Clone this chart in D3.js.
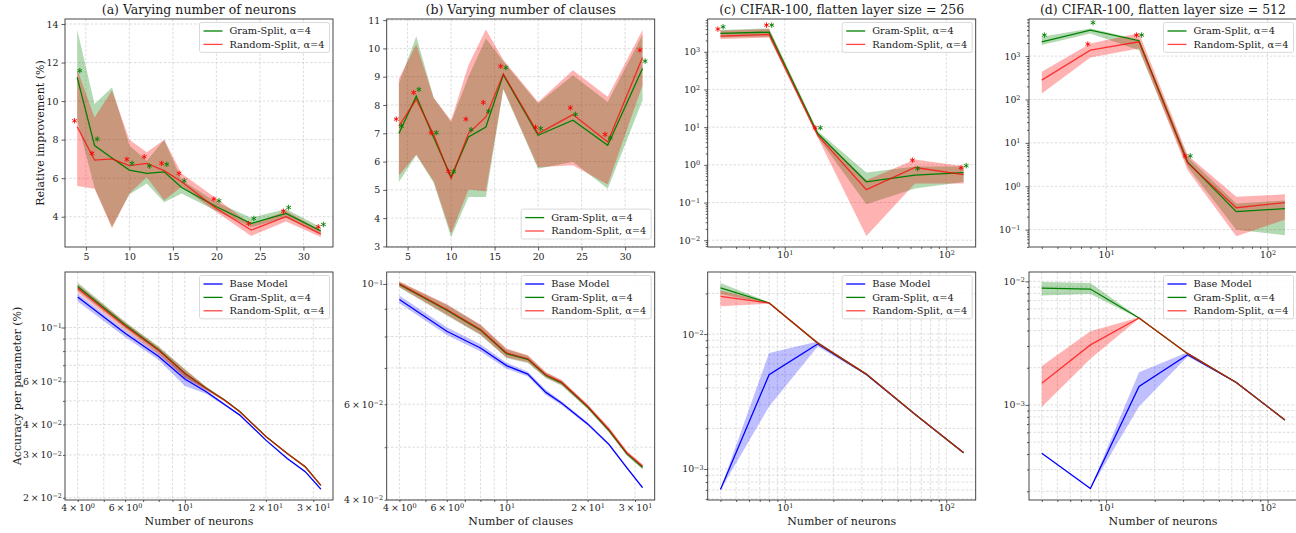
<!DOCTYPE html>
<html>
<head>
<meta charset="utf-8">
<script src="https://cdn.jsdelivr.net/npm/d3@7"></script>
<style>
  body { margin: 0; background: #fff; }
  svg text { font-family: "DejaVu Serif", serif; fill: #1a1a1a; }
</style>
</head>
<body>
<div id="chart"></div>
<script>
// x values
const neurons = [4, 6, 8, 10, 12, 14, 16, 20, 24, 28, 32];
const clauses = [4, 6, 8, 10, 12, 14, 16, 20, 24, 28, 32];
const cifarNeurons = [4, 8, 16, 32, 64, 128];

// (a) top: relative improvement, varying neurons
const aGram = [11.23, 7.69, 7.05, 6.42, 6.25, 6.33, 5.52, 4.52, 3.65, 4.17, 3.26];
const aGramLo = [9.0, 5.5, 3.5, 5.15, 5.73, 4.75, 5.2, 4.3, 3.45, 3.95, 3.1];
const aGramHi = [13.7, 9.85, 10.7, 7.7, 6.9, 8.0, 5.9, 4.75, 3.95, 4.4, 3.45];
const aRand = [8.67, 6.94, 7.0, 6.65, 6.77, 6.39, 5.82, 4.43, 3.31, 4.0, 3.1];
const aRandLo = [5.6, 5.45, 3.4, 5.2, 6.05, 4.85, 5.55, 4.25, 3.0, 3.75, 2.95];
const aRandHi = [11.65, 9.15, 10.55, 8.0, 7.35, 8.0, 6.25, 4.95, 3.6, 4.3, 3.3];
const aGramStar = [11.58, 8.03, null, 6.77, 6.63, 6.72, 5.87, 4.83, 3.91, 4.48, 3.6];
const aRandStar = [8.98, 7.29, null, 6.98, 7.11, 6.77, 6.25, 4.92, 3.65, 4.29, 3.48];

// (b) top: relative improvement, varying clauses
const bGram = [6.99, 8.31, 6.85, 5.45, 6.87, 7.22, 9.07, 6.93, 7.46, 6.58, 9.29];
const bGramLo = [5.28, 6.22, 5.25, 3.33, 4.75, 4.75, 8.55, 5.75, 5.99, 5.04, 8.17];
const bGramHi = [8.76, 10.43, 8.26, 7.4, 9.0, 10.35, 9.55, 8.05, 9.05, 8.11, 10.47];
const bRand = [7.25, 8.2, 6.95, 5.4, 7.0, 7.58, 9.1, 6.99, 7.66, 6.69, 9.68];
const bRandLo = [5.51, 6.25, 5.3, 3.45, 5.01, 4.95, 8.58, 5.8, 5.87, 5.19, 8.7];
const bRandHi = [8.93, 10.15, 8.25, 7.45, 9.41, 10.67, 9.6, 8.11, 9.23, 8.29, 10.65];
const bGramStar = [7.25, 8.55, 7.02, 5.65, 7.13, 7.78, 9.32, 7.17, 7.67, 6.83, 9.55];
const bRandStar = [7.5, 8.44, 7.02, 5.65, 7.5, 8.09, 9.37, 7.21, 7.9, 6.96, 9.94];

// (c) top: CIFAR-100, flatten 256
const cGram = [3070, 3330, 6.8, 0.354, 0.53, 0.625];
const cGramLo = [2400, 2500, 5.5, 0.09, 0.235, 0.35];
const cGramHi = [3760, 4170, 7.9, 0.625, 0.9, 0.9];
const cRand = [2600, 2890, 6.1, 0.22, 0.85, 0.55];
const cRandLo = [2170, 2400, 5.3, 0.013, 0.32, 0.32];
const cRandHi = [3600, 4000, 6.8, 0.39, 1.38, 0.92];
const cGramStar = [4600, 5100, 9.6, null, 0.8, 0.95];
const cRandStar = [4000, 5100, 9.6, null, 1.33, 0.84];

// (d) top: CIFAR-100, flatten 512
const dGram = [2140, 3980, 2260, 3.6, 0.26, 0.305];
const dGramLo = [1800, 3330, 1370, 2.8, 0.1, 0.074];
const dGramHi = [2800, 4350, 2400, 4.7, 0.4, 0.47];
const dRand = [280, 1370, 2140, 3.46, 0.32, 0.42];
const dRandLo = [137, 930, 1500, 2.35, 0.07, 0.17];
const dRandHi = [435, 1960, 3340, 5.2, 0.57, 0.65];
const dGramStar = [3050, 5900, 3050, 5.0, null, null];
const dRandStar = [null, 1890, 3050, 5.0, null, null];

// bottom (a): accuracy per parameter, neurons
const abBase = [0.1333, 0.0948, 0.076, 0.0615, 0.0545, 0.0484, 0.0437, 0.0345, 0.029, 0.0256, 0.0217];
const abBaseLo = [0.128, 0.0915, 0.0735, 0.0575, 0.0535, 0.0479, 0.0434, 0.0343, 0.0288, 0.0254, 0.0215];
const abBaseHi = [0.138, 0.0975, 0.0785, 0.0645, 0.0555, 0.0489, 0.044, 0.0347, 0.0292, 0.0258, 0.0219];
const abGram = [0.1475, 0.1026, 0.081, 0.0649, 0.0563, 0.0505, 0.0452, 0.0357, 0.0304, 0.0268, 0.0225];
const abGramLo = [0.142, 0.0995, 0.0785, 0.0625, 0.0555, 0.05, 0.0449, 0.0355, 0.0302, 0.0266, 0.0224];
const abGramHi = [0.153, 0.1055, 0.0835, 0.0675, 0.0571, 0.051, 0.0455, 0.0359, 0.0306, 0.027, 0.0226];
const abRand = [0.145, 0.1015, 0.0805, 0.0647, 0.0562, 0.0504, 0.0451, 0.0357, 0.0304, 0.0268, 0.0225];
const abRandLo = [0.139, 0.0975, 0.0775, 0.062, 0.0553, 0.0499, 0.0448, 0.0355, 0.0302, 0.0266, 0.0224];
const abRandHi = [0.1505, 0.105, 0.083, 0.0672, 0.0571, 0.0509, 0.0454, 0.0359, 0.0306, 0.027, 0.0226];

// bottom (b): accuracy per parameter, clauses
const bbBase = [0.0936, 0.0818, 0.0762, 0.0707, 0.0682, 0.0631, 0.0603, 0.0552, 0.0506, 0.0458, 0.0421];
const bbBaseLo = [0.0921, 0.0805, 0.0751, 0.0698, 0.0675, 0.0624, 0.0598, 0.0548, 0.0503, 0.0456, 0.0419];
const bbBaseHi = [0.0952, 0.0832, 0.0774, 0.0716, 0.0689, 0.0638, 0.0608, 0.0556, 0.0509, 0.046, 0.0423];
const bbGram = [0.0998, 0.0895, 0.0822, 0.0744, 0.0726, 0.0678, 0.0657, 0.0593, 0.0537, 0.0486, 0.0459];
const bbGramLo = [0.0985, 0.0875, 0.0805, 0.073, 0.0715, 0.067, 0.065, 0.0588, 0.0532, 0.0482, 0.0455];
const bbGramHi = [0.1008, 0.0915, 0.084, 0.0758, 0.0737, 0.0686, 0.0664, 0.0598, 0.0542, 0.049, 0.0463];
const bbRand = [0.1, 0.0897, 0.0824, 0.0746, 0.0728, 0.068, 0.0659, 0.0595, 0.0539, 0.0488, 0.0461];
const bbRandLo = [0.0987, 0.0877, 0.0807, 0.0732, 0.0717, 0.0672, 0.0652, 0.059, 0.0534, 0.0484, 0.0457];
const bbRandHi = [0.101, 0.0917, 0.0842, 0.076, 0.0739, 0.0688, 0.0666, 0.06, 0.0544, 0.0492, 0.0465];

// bottom (c)
const cbBase = [0.000706, 0.005, 0.00843, 0.00502, 0.00255, 0.00132];
const cbBaseLo = [0.0007, 0.0029, 0.0081, 0.00498, 0.00254, 0.00131];
const cbBaseHi = [0.000712, 0.00723, 0.0088, 0.00506, 0.00256, 0.00133];
const cbGram = [0.022, 0.017, 0.00857, 0.00505, 0.00255, 0.00132];
const cbGramLo = [0.0198, 0.0168, 0.0085, 0.00503, 0.00254, 0.00131];
const cbGramHi = [0.0239, 0.0172, 0.00865, 0.00507, 0.00256, 0.00133];
const cbRand = [0.019, 0.017, 0.00857, 0.00505, 0.00255, 0.00132];
const cbRandLo = [0.0161, 0.0168, 0.0085, 0.00503, 0.00254, 0.00131];
const cbRandHi = [0.021, 0.0172, 0.00865, 0.00507, 0.00256, 0.00133];

// bottom (d)
const dbBase = [0.000406, 0.000211, 0.00141, 0.00255, 0.00152, 0.000755];
const dbBaseLo = [0.000404, 0.00021, 0.00097, 0.00247, 0.00151, 0.00075];
const dbBaseHi = [0.000408, 0.000212, 0.00184, 0.00267, 0.00153, 0.00076];
const dbGram = [0.00883, 0.00867, 0.00505, 0.0026, 0.00152, 0.000755];
const dbGramLo = [0.0077, 0.0079, 0.005, 0.00257, 0.00151, 0.00075];
const dbGramHi = [0.00988, 0.0097, 0.0051, 0.00263, 0.00153, 0.00076];
const dbRand = [0.0015, 0.00306, 0.00505, 0.0026, 0.00152, 0.000755];
const dbRandLo = [0.00096, 0.00236, 0.005, 0.00257, 0.00151, 0.00075];
const dbRandHi = [0.00207, 0.00394, 0.0051, 0.00263, 0.00153, 0.00076];

// tick labels
const linXTicks = [5, 10, 15, 20, 25, 30];
const aYTicks = [4, 6, 8, 10, 12, 14];
const bYTicks = [3, 4, 5, 6, 7, 8, 9, 10, 11];
const cYTicks = [1e-2, 1e-1, 1, 10, 100, 1000];
const dYTicks = [1e-1, 1, 10, 100, 1000];
const cifarXTicks = [10, 100];
const smallLogXTicks = [4, 6, 10, 20, 30];
const abYTicks = [0.02, 0.03, 0.04, 0.06, 0.1];
const bbYTicks = [0.04, 0.06, 0.1];
const cbYTicks = [1e-3, 1e-2];
const dbYTicks = [1e-3, 1e-2];

const titles = [
  "(a) Varying number of neurons",
  "(b) Varying number of clauses",
  "(c) CIFAR-100, flatten layer size = 256",
  "(d) CIFAR-100, flatten layer size = 512",
];

const colors = { base: "#0000ff", gram: "#008000", rand: "#ff0000" };

function draw() {
  const dimensions = {
    width: 1296,
    height: 533,
    panelLefts: [65, 386.7, 707.7, 1029],
    panelWidth: 268,
    topRow: 19,
    bottomRow: 272,
    panelHeight: 228,
  };

  const svg = d3
    .select("#chart")
    .append("svg")
    .attr("width", dimensions.width)
    .attr("height", dimensions.height);

  const gramS = (x, y, lo, hi, star) => ({ x, y, lo, hi, star, color: colors.gram, label: "Gram-Split, α=4", lineOpacity: 1 });
  const randS = (x, y, lo, hi, star) => ({ x, y, lo, hi, star, color: colors.rand, label: "Random-Split, α=4", lineOpacity: 0.72 });
  const baseS = (x, y, lo, hi) => ({ x, y, lo, hi, color: colors.base, label: "Base Model", lineOpacity: 1 });

  const L = dimensions.panelLefts;
  const panels = [
    {
      left: L[0], top: dimensions.topRow, title: titles[0], ylabel: "Relative improvement (%)", ylabelX: 44,
      xLog: false, xDomain: [2.6, 33.4], xTicks: linXTicks,
      yLog: false, yDomain: [2.43, 14.26], yTicks: aYTicks,
      series: [gramS(neurons, aGram, aGramLo, aGramHi, aGramStar), randS(neurons, aRand, aRandLo, aRandHi, aRandStar)],
      legend: { corner: "top" },
    },
    {
      left: L[1], top: dimensions.topRow, title: titles[1],
      xLog: false, xDomain: [2.6, 33.4], xTicks: linXTicks,
      yLog: false, yDomain: [2.98, 11.04], yTicks: bYTicks,
      series: [gramS(clauses, bGram, bGramLo, bGramHi, bGramStar), randS(clauses, bRand, bRandLo, bRandHi, bRandStar)],
      legend: { corner: "bottom" },
    },
    {
      left: L[2], top: dimensions.topRow, title: titles[2],
      xLog: true, xDomain: [3.334, 152.1], xTicks: cifarXTicks,
      yLog: true, yDomain: [0.0066, 7413], yTicks: cYTicks, minorGrid: false, yPad: 7.5,
      series: [gramS(cifarNeurons, cGram, cGramLo, cGramHi, cGramStar), randS(cifarNeurons, cRand, cRandLo, cRandHi, cRandStar)],
      legend: { corner: "top" },
    },
    {
      left: L[3], top: dimensions.topRow, title: titles[3],
      xLog: true, xDomain: [3.334, 152.1], xTicks: cifarXTicks,
      yLog: true, yDomain: [0.0398, 7161], yTicks: dYTicks, minorGrid: false, yPad: 8.5,
      series: [gramS(cifarNeurons, dGram, dGramLo, dGramHi, dGramStar), randS(cifarNeurons, dRand, dRandLo, dRandHi, dRandStar)],
      legend: { corner: "top" },
    },
    {
      left: L[0], top: dimensions.bottomRow, ylabel: "Accuracy per parameter (%)", ylabelX: 20.5, xlabel: "Number of neurons",
      xLog: true, xDomain: [3.589, 35.5], xTicks: smallLogXTicks,
      yLog: true, yDomain: [0.01959, 0.169], yTicks: abYTicks, minorGrid: true, yPad: 3,
      series: [baseS(neurons, abBase, abBaseLo, abBaseHi), gramS(neurons, abGram, abGramLo, abGramHi), randS(neurons, abRand, abRandLo, abRandHi)],
      legend: { corner: "top" },
    },
    {
      left: L[1], top: dimensions.bottomRow, xlabel: "Number of clauses",
      xLog: true, xDomain: [3.589, 35.5], xTicks: smallLogXTicks,
      yLog: true, yDomain: [0.03996, 0.1052], yTicks: bbYTicks, minorGrid: true, yPad: 3.5,
      series: [baseS(clauses, bbBase, bbBaseLo, bbBaseHi), gramS(clauses, bbGram, bbGramLo, bbGramHi), randS(clauses, bbRand, bbRandLo, bbRandHi)],
      legend: { corner: "top" },
    },
    {
      left: L[2], top: dimensions.bottomRow, xlabel: "Number of neurons",
      xLog: true, xDomain: [3.334, 152.1], xTicks: cifarXTicks,
      yLog: true, yDomain: [0.000589, 0.02884], yTicks: cbYTicks, minorGrid: true, yPad: 4,
      series: [baseS(cifarNeurons, cbBase, cbBaseLo, cbBaseHi), gramS(cifarNeurons, cbGram, cbGramLo, cbGramHi), randS(cifarNeurons, cbRand, cbRandLo, cbRandHi)],
      legend: { corner: "top" },
    },
    {
      left: L[3], top: dimensions.bottomRow, xlabel: "Number of neurons",
      xLog: true, xDomain: [3.334, 152.1], xTicks: cifarXTicks,
      yLog: true, yDomain: [0.00017, 0.01191], yTicks: dbYTicks, minorGrid: true, yPad: 4,
      series: [baseS(cifarNeurons, dbBase, dbBaseLo, dbBaseHi), gramS(cifarNeurons, dbGram, dbGramLo, dbGramHi), randS(cifarNeurons, dbRand, dbRandLo, dbRandHi)],
      legend: { corner: "top" },
    },
  ];

  panels.forEach((p) => drawPanel(svg, p, dimensions.panelWidth, dimensions.panelHeight));
}

// all k * 10^e values inside a log domain
function logTicks(domain) {
  const out = [];
  const e0 = Math.floor(Math.log10(domain[0]));
  const e1 = Math.ceil(Math.log10(domain[1]));
  for (let e = e0; e <= e1; e++) {
    for (let k = 1; k <= 9; k++) {
      const v = k * Math.pow(10, e);
      if (v >= domain[0] && v <= domain[1]) out.push({ v, major: k === 1 });
    }
  }
  return out;
}

// "4 × 10^0" style label with a raised exponent
function logLabel(textSel, v) {
  const e = Math.floor(Math.log10(v) + 1e-9);
  const m = Math.round(v / Math.pow(10, e));
  textSel.text(null);
  textSel.append("tspan").text((m === 1 ? "" : m + "\u2009×\u2009") + "10");
  textSel
    .append("tspan")
    .attr("dy", "-0.45em")
    .attr("font-size", "6.5px")
    .text(String(e).replace("-", "−"));
}

function drawPanel(svg, p, w, h) {
  const ctr = svg.append("g").attr("transform", `translate(${p.left}, ${p.top})`);

  const xScale = (p.xLog ? d3.scaleLog() : d3.scaleLinear()).domain(p.xDomain).range([0, w]);
  const yScale = (p.yLog ? d3.scaleLog() : d3.scaleLinear()).domain(p.yDomain).range([h, 0]);

  const xAll = p.xLog ? logTicks(p.xDomain) : p.xTicks.map((v) => ({ v, major: true }));
  const yAll = p.yLog ? logTicks(p.yDomain) : p.yTicks.map((v) => ({ v, major: true }));

  // grid
  const gridX = xAll.filter((t) => t.major || p.minorGrid).map((t) => t.v);
  const gridY = yAll.filter((t) => t.major || p.minorGrid).map((t) => t.v);
  const grid = ctr.append("g").attr("stroke", "#c4c4c4").attr("stroke-width", 0.6).attr("stroke-dasharray", "2.5,1.8");
  grid.selectAll(".gx").data(gridX).join("line").attr("class", "gx")
    .attr("x1", (d) => xScale(d)).attr("x2", (d) => xScale(d)).attr("y1", 0).attr("y2", h);
  grid.selectAll(".gy").data(gridY).join("line").attr("class", "gy")
    .attr("y1", (d) => yScale(d)).attr("y2", (d) => yScale(d)).attr("x1", 0).attr("x2", w);

  // bands
  p.series.forEach((s) => {
    const idx = d3.range(s.x.length);
    ctr.append("path")
      .datum(idx)
      .attr("d", d3.area().x((i) => xScale(s.x[i])).y0((i) => yScale(s.lo[i])).y1((i) => yScale(s.hi[i])))
      .attr("fill", s.color)
      .attr("fill-opacity", s.color === colors.base ? 0.25 : 0.3);
  });

  // lines
  p.series.forEach((s) => {
    const idx = d3.range(s.x.length);
    ctr.append("path")
      .datum(idx)
      .attr("d", d3.line().x((i) => xScale(s.x[i])).y((i) => yScale(s.y[i])))
      .attr("fill", "none")
      .attr("stroke", s.color)
      .attr("stroke-opacity", s.lineOpacity)
      .attr("stroke-width", 1.3);
  });

  // significance stars
  const starType = d3.symbolAsterisk || d3.symbolCross;
  const starPath = d3.symbol().type(starType).size(20)();
  p.series.forEach((s) => {
    if (!s.star) return;
    const shift = s.color === colors.rand ? -2.6 : 2.6;
    const pts = d3.range(s.x.length).filter((i) => s.star[i] != null);
    ctr.append("g").selectAll("path").data(pts).join("path")
      .attr("d", starPath)
      .attr("transform", (i) => `translate(${xScale(s.x[i]) + shift}, ${yScale(s.star[i])})`)
      .attr("fill", "none")
      .attr("stroke", s.color)
      .attr("stroke-width", 0.9);
  });

  // frame
  ctr.append("rect").attr("width", w).attr("height", h)
    .attr("fill", "none").attr("stroke", "#333").attr("stroke-width", 0.9);

  // axes: minor ticks, major ticks, labels
  const styleAxis = (g) => {
    g.select(".domain").remove();
    g.selectAll(".tick line").attr("stroke", "#333").attr("stroke-width", 0.8);
    g.selectAll(".tick text").attr("font-size", "9.4px").attr("fill", "#1a1a1a")
      .attr("font-family", "DejaVu Serif, serif");
  };

  const xg = ctr.append("g").attr("transform", `translate(0, ${h})`);
  const yg = ctr.append("g");

  if (p.xLog) {
    xg.append("g").call(d3.axisBottom(xScale).tickValues(xAll.filter((t) => !t.major).map((t) => t.v)).tickSize(2).tickFormat("")).call(styleAxis);
    xg.append("g").call(d3.axisBottom(xScale).tickValues(xAll.filter((t) => t.major).map((t) => t.v)).tickSize(3.5).tickFormat("")).call(styleAxis);
    xg.append("g").call(d3.axisBottom(xScale).tickValues(p.xTicks).tickSize(0).tickPadding(4)).call(styleAxis)
      .selectAll(".tick text").each(function (d) { logLabel(d3.select(this), d); });
  } else {
    xg.append("g").call(d3.axisBottom(xScale).tickValues(p.xTicks).tickSize(3.5).tickPadding(3)).call(styleAxis);
  }

  if (p.yLog) {
    yg.append("g").call(d3.axisLeft(yScale).tickValues(yAll.filter((t) => !t.major).map((t) => t.v)).tickSize(2).tickFormat("")).call(styleAxis);
    yg.append("g").call(d3.axisLeft(yScale).tickValues(yAll.filter((t) => t.major).map((t) => t.v)).tickSize(3.5).tickFormat("")).call(styleAxis);
    yg.append("g").call(d3.axisLeft(yScale).tickValues(p.yTicks).tickSize(0).tickPadding(p.yPad)).call(styleAxis)
      .selectAll(".tick text").each(function (d) { logLabel(d3.select(this), d); });
  } else {
    yg.append("g").call(d3.axisLeft(yScale).tickValues(p.yTicks).tickSize(3.5).tickPadding(3)).call(styleAxis);
  }

  // title and labels
  if (p.title) {
    svg.append("text").attr("x", p.left + w / 2).attr("y", p.top - 5)
      .attr("text-anchor", "middle").attr("font-size", "12.5px").text(p.title);
  }
  if (p.xlabel) {
    svg.append("text").attr("x", p.left + w / 2).attr("y", p.top + h + 25)
      .attr("text-anchor", "middle").attr("font-size", "11px").text(p.xlabel);
  }
  if (p.ylabel) {
    svg.append("text")
      .attr("transform", `translate(${p.ylabelX}, ${p.top + h / 2}) rotate(-90)`)
      .attr("text-anchor", "middle").attr("font-size", "11px").text(p.ylabel);
  }

  // legend
  const rowH = 13.4;
  const boxH = 8.5 + rowH * (p.series.length - 1) + 8;
  const leg = svg.append("g");
  const box = leg.append("rect")
    .attr("rx", 2).attr("fill", "#fff").attr("fill-opacity", 0.85)
    .attr("stroke", "#d0d0d0").attr("stroke-width", 0.8).attr("height", boxH);
  const rows = leg.selectAll("g").data(p.series).join("g")
    .attr("transform", (d, i) => `translate(0, ${8.5 + i * rowH})`);
  rows.append("line").attr("x1", 4).attr("x2", 23).attr("stroke", (d) => d.color)
    .attr("stroke-opacity", (d) => d.lineOpacity).attr("stroke-width", 1.3);
  const texts = rows.append("text").attr("x", 30).attr("dy", "0.35em").attr("font-size", "9.8px").text((d) => d.label);
  let maxLen = 0;
  texts.each(function () { maxLen = Math.max(maxLen, this.getComputedTextLength()); });
  const boxW = 30 + maxLen + 5;
  box.attr("width", boxW);
  const lx = p.left + w - 3.5 - boxW;
  const ly = p.legend.corner === "top" ? p.top + 3.5 : p.top + h - 8 - boxH;
  leg.attr("transform", `translate(${lx}, ${ly})`);
}

draw();
</script>
</body>
</html>
